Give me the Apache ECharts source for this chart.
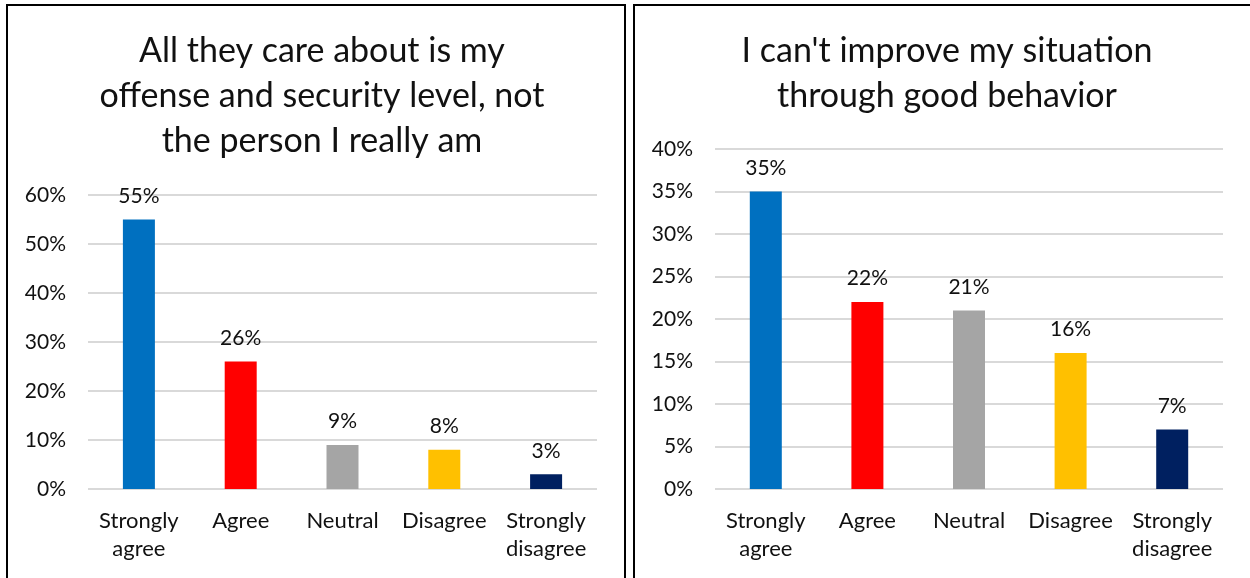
<!DOCTYPE html>
<html>
<head>
<meta charset="utf-8">
<script src="https://cdn.jsdelivr.net/npm/echarts@6/dist/echarts.min.js"></script>
<style>
html,body{margin:0;padding:0;background:#fff;}
#c{width:1250px;height:578px;}
</style>
</head>
<body>
<div id="c"></div>
<script>
const categories = ['Strongly\nagree', 'Agree', 'Neutral', 'Disagree', 'Strongly\ndisagree'];
const barColors = ['#0070C0', '#FF0000', '#A5A5A5', '#FFC000', '#002060'];
const leftTitle = 'All they care about is my\noffense and security level, not\nthe person I really am';
const leftValues = [55, 26, 9, 8, 3];
const rightTitle = "I can't improve my situation\nthrough good behavior";
const rightValues = [35, 22, 21, 16, 7];

const FONT = 'Lato';
const chart = echarts.init(document.getElementById('c'), null, {renderer: 'canvas'});

function mkData(vals) {
  return vals.map((v, i) => ({value: v, itemStyle: {color: barColors[i]}}));
}
function xAxis(gi) {
  return {
    type: 'category', gridIndex: gi, data: categories,
    axisLine: {show: false}, axisTick: {show: false},
    axisLabel: {color: '#111', fontFamily: FONT, fontSize: 22, lineHeight: 28, margin: 18, interval: 0}
  };
}
function yAxis(gi, max, interval) {
  return {
    type: 'value', gridIndex: gi, min: 0, max: max, interval: interval,
    axisLine: {show: false}, axisTick: {show: false},
    axisLabel: {color: '#111', fontFamily: FONT, fontSize: 21, margin: 22, formatter: '{value}%'},
    splitLine: {lineStyle: {color: '#D9D9D9', width: 2}}
  };
}
function series(gi, vals) {
  return {
    type: 'bar', xAxisIndex: gi, yAxisIndex: gi, data: mkData(vals), barWidth: 32,
    label: {show: true, position: 'top', distance: 13, formatter: '{c}%', color: '#111', fontFamily: FONT, fontSize: 21}
  };
}

chart.setOption({
  animation: false,
  title: [
    {text: leftTitle, left: 317, top: 24, textAlign: 'center',
     textStyle: {fontFamily: FONT, fontSize: 34, fontWeight: 'normal', color: '#111', lineHeight: 45}},
    {text: rightTitle, left: 942, top: 24, textAlign: 'center',
     textStyle: {fontFamily: FONT, fontSize: 34, fontWeight: 'normal', color: '#111', lineHeight: 45}}
  ],
  grid: [
    {left: 88, top: 195, width: 509, height: 294},
    {left: 715, top: 149, width: 508, height: 340}
  ],
  xAxis: [xAxis(0), xAxis(1)],
  yAxis: [yAxis(0, 60, 10), yAxis(1, 40, 5)],
  series: [series(0, leftValues), series(1, rightValues)],
  graphic: [
    {type: 'rect', shape: {x: 7, y: 5, width: 618, height: 600}, style: {fill: 'none', stroke: '#000', lineWidth: 2}, silent: true},
    {type: 'rect', shape: {x: 634, y: 5, width: 700, height: 600}, style: {fill: 'none', stroke: '#000', lineWidth: 2}, silent: true}
  ]
});
</script>
</body>
</html>
